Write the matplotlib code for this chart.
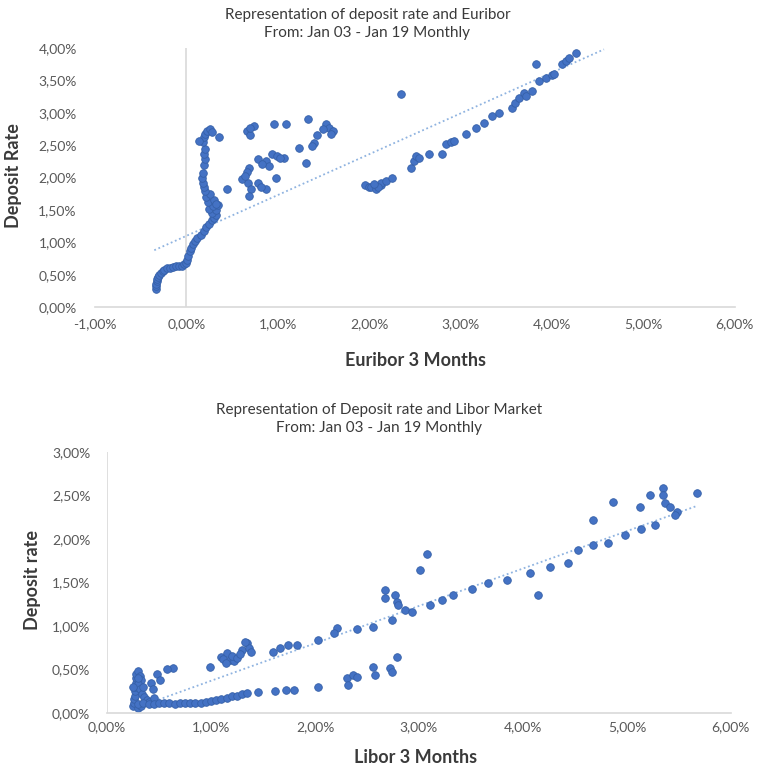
import numpy as np
import matplotlib
matplotlib.use("Agg")
import matplotlib.pyplot as plt
from matplotlib.ticker import FuncFormatter, MultipleLocator

plt.rcParams['font.family'] = ['Lato', 'DejaVu Sans']

# --- top chart: Euribor 3 months (x, %) vs deposit rate (y, %)
euribor_3m = [
    -0.33, -0.33, -0.33, -0.32, -0.32, -0.31, -0.30, -0.28, -0.26, -0.24,
    -0.21, -0.18, -0.14, -0.11, -0.08, -0.05, -0.02, 0.00, 0.01, 0.02,
    0.04, 0.05, 0.07, 0.10, 0.12, 0.16, 0.19, 0.22, 0.25, 0.28,
    0.30, 0.33, 0.28, 0.32, 0.25, 0.29, 0.35, 0.24, 0.30, 0.22,
    0.26, 0.20, 0.19, 0.18, 0.17, 0.18, 0.19, 0.20, 0.19, 0.20,
    0.18, 0.19, 0.21, 0.23, 0.26, 0.28, 0.36, 0.14, 0.45, 0.33,
    0.66, 0.70, 0.74, 0.70, 0.96, 1.09, 1.33, 1.53, 1.56, 1.60,
    1.58, 1.50, 1.43, 1.40, 1.38, 1.23, 1.31,
    0.78, 0.87, 0.94, 0.99, 1.07, 0.91, 0.83, 0.98, 1.03,
    0.69, 0.66, 0.61, 0.67, 0.71, 0.69, 0.78, 0.87, 0.82, 0.64,
    2.35, 1.95, 2.00, 2.02, 2.08, 2.13, 2.13, 2.19, 2.25, 2.10, 2.05,
    2.46, 2.49, 2.51, 2.55, 2.66, 2.80, 2.84, 2.90, 2.93, 3.06, 3.17,
    3.26, 3.35, 3.42, 3.56, 3.60, 3.64, 3.70, 3.72, 3.78, 3.83, 3.86,
    3.93, 4.00, 4.02, 4.11, 4.15, 4.19, 4.26,
]
deposit_eu = [
    0.28, 0.32, 0.36, 0.40, 0.44, 0.47, 0.50, 0.53, 0.56, 0.58,
    0.60, 0.61, 0.62, 0.63, 0.64, 0.64, 0.66, 0.68, 0.73, 0.79,
    0.86, 0.92, 0.97, 1.02, 1.07, 1.12, 1.18, 1.24, 1.29, 1.34,
    1.38, 1.42, 1.46, 1.50, 1.52, 1.56, 1.58, 1.62, 1.65, 1.70,
    1.75, 1.80, 1.86, 1.92, 2.00, 2.07, 2.20, 2.28, 2.36, 2.44,
    2.55, 2.62, 2.68, 2.72, 2.75, 2.70, 2.62, 2.57, 1.83, 1.60,
    2.72, 2.66, 2.80, 2.76, 2.83, 2.83, 2.90, 2.83, 2.77, 2.72,
    2.68, 2.75, 2.65, 2.54, 2.49, 2.45, 2.23,
    2.29, 2.26, 2.37, 2.34, 2.31, 2.18, 2.21, 2.00, 2.30,
    2.15, 2.08, 1.98, 1.91, 1.83, 1.72, 1.92, 1.83, 1.86, 2.02,
    3.29, 1.88, 1.86, 1.85, 1.83, 1.88, 1.91, 1.95, 2.00, 1.86, 1.90,
    2.15, 2.26, 2.34, 2.30, 2.37, 2.37, 2.52, 2.55, 2.57, 2.68, 2.77,
    2.85, 2.95, 3.00, 3.08, 3.15, 3.23, 3.30, 3.26, 3.34, 3.75, 3.49,
    3.54, 3.58, 3.60, 3.75, 3.80, 3.85, 3.92,
]
# dotted linear trend as drawn in the source (slope, intercept, x range)
trend_eu = [0.63, 1.10]
trend_eu_x = [-0.35, 4.57]

# --- bottom chart: Libor 3 months (x, %) vs deposit rate (y, %)
libor_3m = [
    0.25, 0.26, 0.26, 0.27, 0.27, 0.27, 0.28, 0.28, 0.28, 0.30,
    0.32, 0.33, 0.30, 0.32, 0.34, 0.36, 0.38, 0.30, 0.33, 0.40,
    0.45, 0.35, 0.42, 0.48, 0.51, 0.44, 0.63, 0.58, 0.30, 0.25,
    0.30, 0.35, 0.40, 0.45, 0.50, 0.55, 0.60, 0.65, 0.70, 0.75,
    0.80, 0.85, 0.90, 0.95, 1.00, 1.05, 1.10, 1.15, 1.20, 1.25,
    1.30, 1.35, 1.45, 1.62, 1.72, 1.80, 2.03,
    2.31, 2.32, 2.37, 2.40, 2.56, 2.58, 2.72, 2.74, 2.79,
    0.99, 1.10, 1.15, 1.12, 1.18, 1.22, 1.30, 1.35, 1.37, 1.38,
    1.14, 1.20, 1.25, 1.33, 1.28,
    1.60, 1.66, 1.74, 1.83, 2.03, 2.21, 2.18, 2.40, 2.56, 2.74,
    2.67, 2.67, 2.77, 2.79, 2.80, 2.87, 2.93, 3.01, 3.08, 3.11,
    3.22, 3.33, 3.51, 3.66,
    3.85, 4.07, 4.14, 4.26, 4.43, 4.53, 4.67, 4.67, 4.82, 4.87,
    4.98, 5.13, 5.14, 5.22, 5.27, 5.35, 5.35, 5.37, 5.41, 5.48,
    5.46, 5.67,
]
deposit_lib = [
    0.08, 0.12, 0.16, 0.20, 0.25, 0.30, 0.35, 0.40, 0.45, 0.48,
    0.43, 0.38, 0.33, 0.28, 0.22, 0.18, 0.15, 0.06, 0.08, 0.13,
    0.17, 0.30, 0.34, 0.45, 0.38, 0.28, 0.52, 0.50, 0.40, 0.30,
    0.10, 0.11, 0.10, 0.10, 0.11, 0.12, 0.11, 0.10, 0.11, 0.11,
    0.12, 0.12, 0.12, 0.13, 0.14, 0.15, 0.16, 0.17, 0.19, 0.20,
    0.22, 0.23, 0.24, 0.25, 0.26, 0.27, 0.30,
    0.40, 0.32, 0.44, 0.41, 0.53, 0.44, 0.52, 0.47, 0.64,
    0.53, 0.64, 0.69, 0.62, 0.61, 0.60, 0.72, 0.80, 0.75, 0.70,
    0.57, 0.66, 0.63, 0.82, 0.68,
    0.70, 0.75, 0.78, 0.78, 0.84, 0.98, 0.92, 0.97, 0.99, 1.07,
    1.41, 1.32, 1.36, 1.28, 1.24, 1.18, 1.16, 1.64, 1.83, 1.24,
    1.30, 1.36, 1.43, 1.49,
    1.53, 1.61, 1.36, 1.68, 1.72, 1.87, 1.93, 2.22, 1.95, 2.43,
    2.05, 2.37, 2.11, 2.51, 2.16, 2.59, 2.51, 2.41, 2.37, 2.31,
    2.28, 2.53,
]
trend_lib = [0.43, -0.06]
trend_lib_x = [0.25, 5.67]

point_col = '#4472C4'
edge_col = '#3560a8'
trend_col = '#8fb3e0'
tick_col = '#595959'
axis_col = '#d9d9d9'
text_col = '#3a3a3a'


def pct(v, _):
    return f"{v:.2f}".replace('.', ',') + '%'


def trend(ax, coef, xr):
    xs = np.array(xr)
    ax.plot(xs, coef[0] * xs + coef[1], ls=(0, (1, 1.5)), color=trend_col,
            lw=1.3, zorder=1)


def style(ax, xpad, ypad):
    for s in ['top', 'right', 'left']:
        ax.spines[s].set_visible(False)
    ax.spines['bottom'].set_color(axis_col)
    ax.spines['bottom'].set_linewidth(1.2)
    ax.tick_params(length=0, labelsize=10, colors=tick_col)
    ax.tick_params(axis='x', pad=xpad)
    ax.tick_params(axis='y', pad=ypad)
    ax.xaxis.set_major_locator(MultipleLocator(1))
    ax.yaxis.set_major_locator(MultipleLocator(0.5))
    ax.xaxis.set_major_formatter(FuncFormatter(pct))
    ax.yaxis.set_major_formatter(FuncFormatter(pct))


fig = plt.figure(figsize=(7.59, 7.68), dpi=100)

# top
ax1 = fig.add_axes([0.125, 0.600, 0.843, 0.3375])
ax1.set_xlim(-1, 6)
ax1.set_ylim(0, 4)
style(ax1, 8, 13)
ax1.axvline(0, color=axis_col, lw=1.2, zorder=0)
trend(ax1, trend_eu, trend_eu_x)
ax1.scatter(euribor_3m, deposit_eu, s=30, color=point_col, edgecolors=edge_col,
            linewidths=0.6, zorder=2)

fig.text(0.484, 0.980, 'Representation of deposit rate and Euribor', ha='center',
         va='center', fontsize=11, color=text_col)
fig.text(0.484, 0.957, 'From: Jan 03 - Jan 19 Monthly', ha='center', va='center',
         fontsize=11, color=text_col)
fig.text(0.547, 0.530, 'Euribor 3 Months', ha='center', va='center', fontsize=13,
         fontweight='bold', color=text_col)
fig.text(0.018, 0.772, 'Deposit Rate', ha='center', va='center', rotation=90,
         fontsize=13, fontweight='bold', color=text_col)

# bottom
ax2 = fig.add_axes([0.141, 0.0716, 0.822, 0.340])
ax2.set_xlim(0, 6)
ax2.set_ylim(0, 3)
style(ax2, 6, 12)
ax2.axvline(0, color=axis_col, lw=1.2, zorder=0)
trend(ax2, trend_lib, trend_lib_x)
ax2.scatter(libor_3m, deposit_lib, s=30, color=point_col, edgecolors=edge_col,
            linewidths=0.6, zorder=2)

fig.text(0.500, 0.466, 'Representation of Deposit rate and Libor Market', ha='center',
         va='center', fontsize=11, color=text_col)
fig.text(0.500, 0.443, 'From: Jan 03 - Jan 19 Monthly', ha='center', va='center',
         fontsize=11, color=text_col)
fig.text(0.547, 0.014, 'Libor 3 Months', ha='center', va='center', fontsize=13,
         fontweight='bold', color=text_col)
fig.text(0.043, 0.245, 'Deposit rate', ha='center', va='center', rotation=90,
         fontsize=13, fontweight='bold', color=text_col)

fig.savefig('out.png', dpi=100)
